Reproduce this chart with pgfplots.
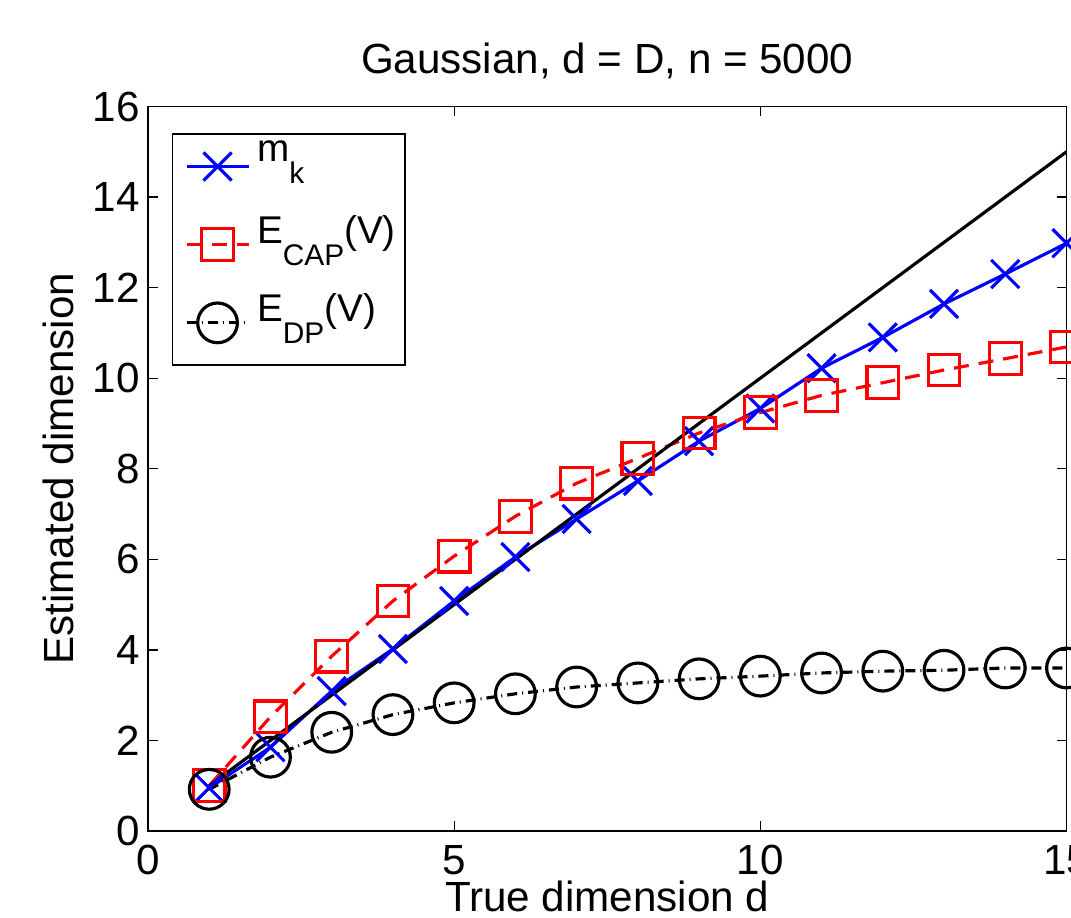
\documentclass[border=0pt]{standalone}
\usepackage{fontspec}
\setmainfont{Liberation Sans}
\usepackage{pgfplots}
\pgfplotsset{compat=1.18}

% MATLAB-style low subscript
\newcommand{\sub}[1]{\raisebox{-0.43cm}{\fontsize{17}{17}\selectfont #1}}

\begin{document}
\fontsize{24}{28}\selectfont
\begin{tikzpicture}
\begin{axis}[
    scale only axis,
    width=18.37cm,
    height=14.49cm,
    xmin=0, xmax=15,
    ymin=0, ymax=16,
    xtick={0,5,10,15},
    ytick={0,2,4,6,8,10,12,14,16},
    xtick pos=both, ytick pos=both,
    tick align=inside,
    major tick length=0.2cm,
    axis line style={line width=0.75pt},
    tick style={black, line width=0.75pt},
    /pgf/number format/assume math mode=true,
    tick label style={font=\fontsize{24}{28}\selectfont},
    xticklabel style={inner sep=0pt, yshift=-0.28cm},
    yticklabel style={inner sep=0pt, xshift=-0.16cm},
    title={Gaussian, d = D, n = 5000},
    title style={at={(axis description cs:0.5,1.031)}, anchor=base, inner sep=0pt},
    xlabel={True dimension d},
    xlabel style={at={(axis description cs:0.5,-0.1117)}, anchor=base, inner sep=0pt},
    ylabel={Estimated dimension},
    ylabel style={at={(axis description cs:-0.0816,0.5)}, rotate=0, anchor=base, inner sep=0pt},
    legend cell align=left,
    legend style={
        at={(0.026,0.963)}, anchor=north west,
        draw=black, line width=0.75pt, fill=white,
        font=\fontsize{22}{26}\selectfont,
        inner xsep=0.18cm, inner ysep=0.14cm,
        row sep=0.28cm, column sep=0.14cm,
        nodes={inner sep=0pt},
    },
    legend image code/.code={
        \path[draw=none, fill=none] (-0.1cm,-0.94cm) rectangle (1.24cm,0cm);
        \draw[mark repeat=2, mark phase=2, #1] plot coordinates {(0cm,-0.24cm) (0.62cm,-0.24cm) (1.24cm,-0.24cm)};
    },
]

\addplot[blue, line width=1.8pt, mark=x, mark size=11.3pt, mark options={solid}] coordinates {
    (1,0.95) (2,1.85) (3,3.09) (4,4.02) (5,5.08) (6,6.05) (7,6.89) (8,7.73)
    (9,8.61) (10,9.33) (11,10.22) (12,10.90) (13,11.64) (14,12.30) (15,12.98)
};
\addlegendentry{m\sub{k}}

\addplot[red, line width=1.8pt, dash pattern=on 0.3cm off 0.2cm, mark=square, mark size=9pt, mark options={solid}] coordinates {
    (1,1.00) (2,2.52) (3,3.86) (4,5.08) (5,6.07) (6,6.95) (7,7.68) (8,8.23)
    (9,8.79) (10,9.24) (11,9.62) (12,9.90) (13,10.18) (14,10.43) (15,10.69)
};
\addlegendentry{E\sub{CAP}(V)}

\addplot[black, line width=1.8pt, dash pattern=on 0.2cm off 0.1cm on 0.02cm off 0.1cm, mark=o, mark size=11.3pt, mark options={solid}] coordinates {
    (1,0.92) (2,1.63) (3,2.18) (4,2.57) (5,2.83) (6,3.03) (7,3.18) (8,3.27)
    (9,3.36) (10,3.42) (11,3.49) (12,3.53) (13,3.55) (14,3.60) (15,3.60)
};
\addlegendentry{E\sub{DP}(V)}

\addplot[black, line width=1.8pt, forget plot] coordinates {
    (1,1) (2,2) (3,3) (4,4) (5,5) (6,6) (7,7) (8,8)
    (9,9) (10,10) (11,11) (12,12) (13,13) (14,14) (15,15)
};

\coordinate (BL) at (rel axis cs:0,0);
\end{axis}
\pgfresetboundingbox
\path[use as bounding box] (BL) ++(-2.96cm,-1.74cm) rectangle ++(21.42cm,18.36cm);
\end{tikzpicture}
\end{document}
